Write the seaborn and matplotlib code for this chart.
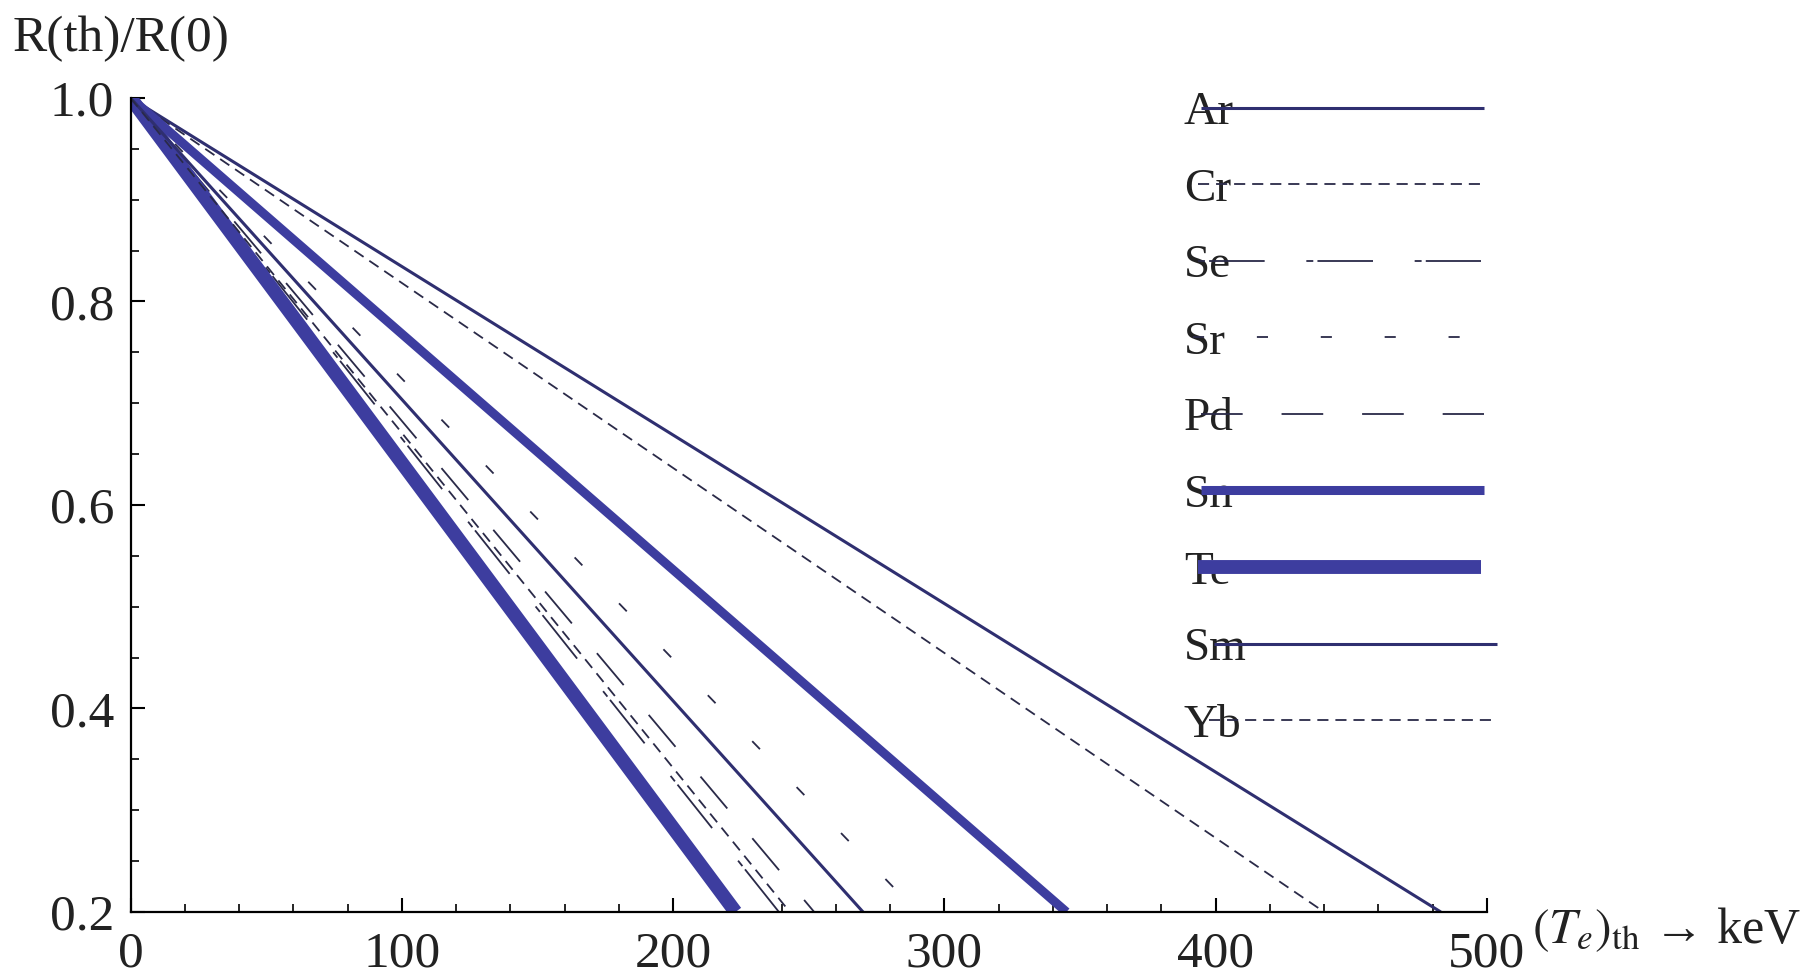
import matplotlib
matplotlib.use("Agg")
import matplotlib.pyplot as plt
import seaborn as sns
import pandas as pd
from matplotlib.ticker import MultipleLocator, FormatStrFormatter

# ---- data ----
elements = ["Ar", "Cr", "Se", "Sr", "Pd", "Sn", "Te", "Sm", "Yb"]
# threshold energy (keV) where R(th)/R(0) reaches 0.2 ; all start at (0, 1.0)
x_start = [0, 0, 0, 0, 0, 0, 0, 0, 0]
x_end = [483, 440, 239, 290, 252, 345, 223, 270, 243]
y_start = [1.0] * 9
y_end = [0.2] * 9
x_ticks = [0, 100, 200, 300, 400, 500]
y_ticks = [0.2, 0.4, 0.6, 0.8, 1.0]

# ---- styles ----
blue = "#3d3d9f"
navy = "#2f2f70"
dark = "#2a2a48"
styles = {
    "Ar": dict(color=navy, lw=2.2, ls="-"),
    "Cr": dict(color=dark, lw=1.3, ls=(0, (8, 5))),
    "Se": dict(color=dark, lw=1.3, ls=(0, (5, 3, 40, 30))),
    "Sr": dict(color=dark, lw=1.3, ls=(0, (8, 38))),
    "Pd": dict(color=dark, lw=1.3, ls=(0, (30, 28))),
    "Sn": dict(color=blue, lw=6.5, ls="-"),
    "Te": dict(color=blue, lw=10, ls="-"),
    "Sm": dict(color=navy, lw=2.2, ls="-"),
    "Yb": dict(color=dark, lw=1.3, ls=(0, (8, 5))),
}

sns.set_theme(style="white")
plt.rcParams["font.family"] = ["Liberation Serif", "DejaVu Serif"]
plt.rcParams["mathtext.fontset"] = "stix"
plt.rcParams["lines.scale_dashes"] = False
plt.rcParams["lines.solid_capstyle"] = "butt"
plt.rcParams["lines.dash_capstyle"] = "butt"

fig = plt.figure(figsize=(18.12, 9.8), dpi=100)
fig.patch.set_facecolor("white")
ax = fig.add_axes([0.0721, 0.0694, 0.7485, 0.8306])

for i, name in enumerate(elements):
    df = pd.DataFrame({"x": [x_start[i], x_end[i]], "y": [y_start[i], y_end[i]]})
    st = styles[name]
    sns.lineplot(data=df, x="x", y="y", ax=ax, color=st["color"],
                 linewidth=st["lw"], linestyle=st["ls"], label=name,
                 sort=False, estimator=None)

ax.set_xlim(0, 500)
ax.set_ylim(0.2, 1.0)
ax.set_xticks(x_ticks)
ax.set_yticks(y_ticks)
ax.xaxis.set_minor_locator(MultipleLocator(20))
ax.yaxis.set_minor_locator(MultipleLocator(0.05))
ax.yaxis.set_major_formatter(FormatStrFormatter("%.1f"))

for side in ["top", "right"]:
    ax.spines[side].set_visible(False)
for side in ["left", "bottom"]:
    ax.spines[side].set_color("black")
    ax.spines[side].set_linewidth(1.6)

ax.tick_params(axis="both", which="major", direction="in", length=10, width=1.5,
               color="black", labelsize=37, labelcolor="#222222")
ax.tick_params(axis="both", which="minor", direction="in", length=6, width=1.2,
               color="black")
ax.tick_params(axis="x", which="major", pad=14)
ax.tick_params(axis="y", which="major", pad=12)
ax.tick_params(bottom=True, left=True, which="both")

ax.set_ylabel("R(th)/R(0)", rotation=0, fontsize=37, color="#222222",
              ha="left", va="center")
ax.yaxis.set_label_coords(-0.087, 1.072)
ax.set_xlabel(r"$(T_e)_{\mathrm{th}}$ → keV", fontsize=36, color="#222222",
              ha="left", va="center")
ax.xaxis.set_label_coords(1.033, -0.022)

leg = ax.legend(loc="upper left", bbox_to_anchor=(1184 / 1812, 1 - 91 / 980),
                bbox_transform=fig.transFigure, frameon=False, markerfirst=False,
                fontsize=34, handlelength=6.0, handletextpad=-0.7,
                labelspacing=0.71, borderpad=0, borderaxespad=0)
for t in leg.get_texts():
    t.set_color("#222222")
# left-align the label text column (text first, line after it)
try:
    for col in leg._legend_handle_box.get_children():
        col.align = "left"
except Exception:
    pass

fig.savefig("out.png", dpi=100, facecolor="white")
